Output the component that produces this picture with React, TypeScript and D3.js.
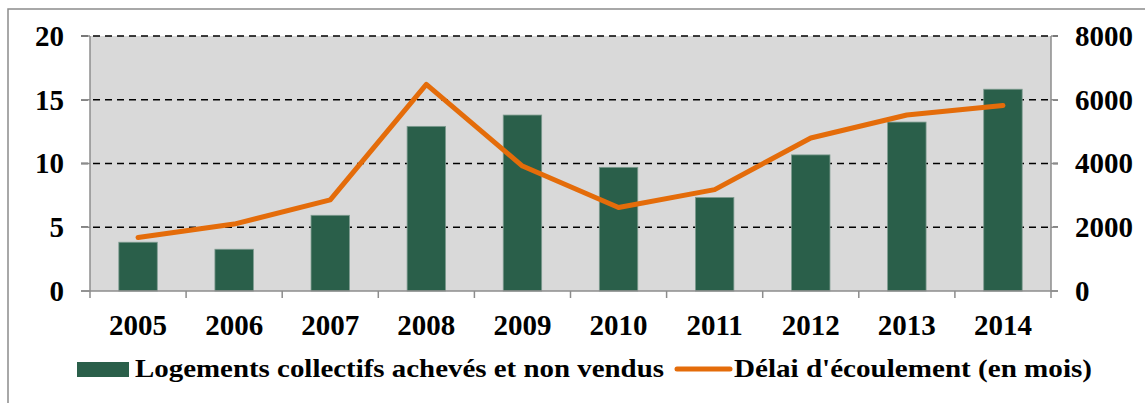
import * as d3 from "d3";

// data
const YEARS = ["2005", "2006", "2007", "2008", "2009", "2010", "2011", "2012", "2013", "2014"];
const LOGEMENTS = [1530, 1310, 2375, 5165, 5520, 3880, 2935, 4270, 5300, 6330];
const DELAI = [4.2, 5.25, 7.15, 16.2, 9.8, 6.55, 7.95, 12.0, 13.8, 14.55];
const LEFT_TICKS = [0, 5, 10, 15, 20];
const RIGHT_TICKS = [0, 2000, 4000, 6000, 8000];
const BAR_LABEL = "Logements collectifs achevés et non vendus";
const LINE_LABEL = "Délai d'écoulement (en mois)";

export default function App() {
  const width = 1145;
  const height = 403;
  const plot = { left: 90, right: 1051, top: 36, bottom: 291 };
  const font = "'Liberation Serif', 'DejaVu Serif', serif";

  const x = d3
    .scaleBand<string>()
    .domain(YEARS)
    .range([plot.left, plot.right])
    .paddingInner(0.6)
    .paddingOuter(0.3);
  const yLeft = d3.scaleLinear().domain([0, 20]).range([plot.bottom, plot.top]);
  const yRight = d3.scaleLinear().domain([0, 8000]).range([plot.bottom, plot.top]);

  const line = d3
    .line<number>()
    .x((_, i) => (x(YEARS[i]) as number) + x.bandwidth() / 2)
    .y((d) => yLeft(d));

  const step = x.step();
  const boundaries = d3.range(YEARS.length + 1).map((i) => plot.left + i * step);

  return (
    <svg
      width={width}
      height={height}
      style={{ position: "absolute", left: 0, top: 0, background: "#fff" }}
      fontFamily={font}
      fontWeight="bold"
    >
      {/* chart frame, only top and left edges visible */}
      <rect x={8} y={9} width={1200} height={500} fill="none" stroke="#8c8c8c" strokeWidth={1.5} />

      <rect
        x={plot.left}
        y={plot.top}
        width={plot.right - plot.left}
        height={plot.bottom - plot.top}
        fill="#d9d9d9"
      />

      {/* dashed grid */}
      {LEFT_TICKS.slice(1).map((t) => (
        <line
          key={t}
          x1={plot.left - 9}
          x2={plot.right + 7}
          y1={yLeft(t)}
          y2={yLeft(t)}
          stroke="#000"
          strokeWidth={1.5}
          strokeDasharray="7,5"
        />
      ))}

      {/* bars */}
      {LOGEMENTS.map((v, i) => (
        <rect
          key={YEARS[i]}
          x={x(YEARS[i])}
          y={yRight(v)}
          width={x.bandwidth()}
          height={plot.bottom - yRight(v)}
          fill="#2a5f4a"
          stroke="#7d9b8f"
          strokeWidth={0.8}
        />
      ))}

      {/* axes */}
      <line x1={plot.left} x2={plot.left} y1={plot.top} y2={plot.bottom} stroke="#8c8c8c" strokeWidth={1.5} />
      <line x1={plot.right} x2={plot.right} y1={plot.top} y2={plot.bottom} stroke="#8c8c8c" strokeWidth={1.5} />
      <line x1={plot.left - 9} x2={plot.right + 7} y1={plot.bottom} y2={plot.bottom} stroke="#8c8c8c" strokeWidth={1.5} />
      {LEFT_TICKS.map((t) => (
        <line key={"lt" + t} x1={plot.left - 9} x2={plot.left} y1={yLeft(t)} y2={yLeft(t)} stroke="#8c8c8c" strokeWidth={1.5} />
      ))}
      {RIGHT_TICKS.map((t) => (
        <line key={"rt" + t} x1={plot.right} x2={plot.right + 7} y1={yRight(t)} y2={yRight(t)} stroke="#8c8c8c" strokeWidth={1.5} />
      ))}
      {boundaries.map((bx) => (
        <line key={"xt" + bx} x1={bx} x2={bx} y1={plot.bottom} y2={plot.bottom + 7} stroke="#8c8c8c" strokeWidth={1.5} />
      ))}

      {/* line series */}
      <path d={line(DELAI) ?? ""} fill="none" stroke="#e46c0a" strokeWidth={5} strokeLinejoin="round" strokeLinecap="round" />

      {/* tick labels */}
      {LEFT_TICKS.map((t) => (
        <text key={"ll" + t} x={64} y={yLeft(t)} dy="0.34em" textAnchor="end" fontSize={29}>
          {t}
        </text>
      ))}
      {RIGHT_TICKS.map((t) => (
        <text key={"rl" + t} x={1075} y={yRight(t)} dy="0.34em" textAnchor="start" fontSize={29}>
          {t}
        </text>
      ))}
      {YEARS.map((yr) => (
        <text key={"xl" + yr} x={(x(yr) as number) + x.bandwidth() / 2} y={335} textAnchor="middle" fontSize={29}>
          {yr}
        </text>
      ))}

      {/* legend */}
      <rect x={77} y={362} width={52} height={15} fill="#2a5f4a" />
      <text x={135} y={377} fontSize={26} textLength={529} lengthAdjust="spacingAndGlyphs">
        {BAR_LABEL}
      </text>
      <line x1={677} x2={730} y1={369} y2={369} stroke="#e46c0a" strokeWidth={5} strokeLinecap="round" />
      <text x={734} y={377} fontSize={26} textLength={358} lengthAdjust="spacingAndGlyphs">
        {LINE_LABEL}
      </text>
    </svg>
  );
}
